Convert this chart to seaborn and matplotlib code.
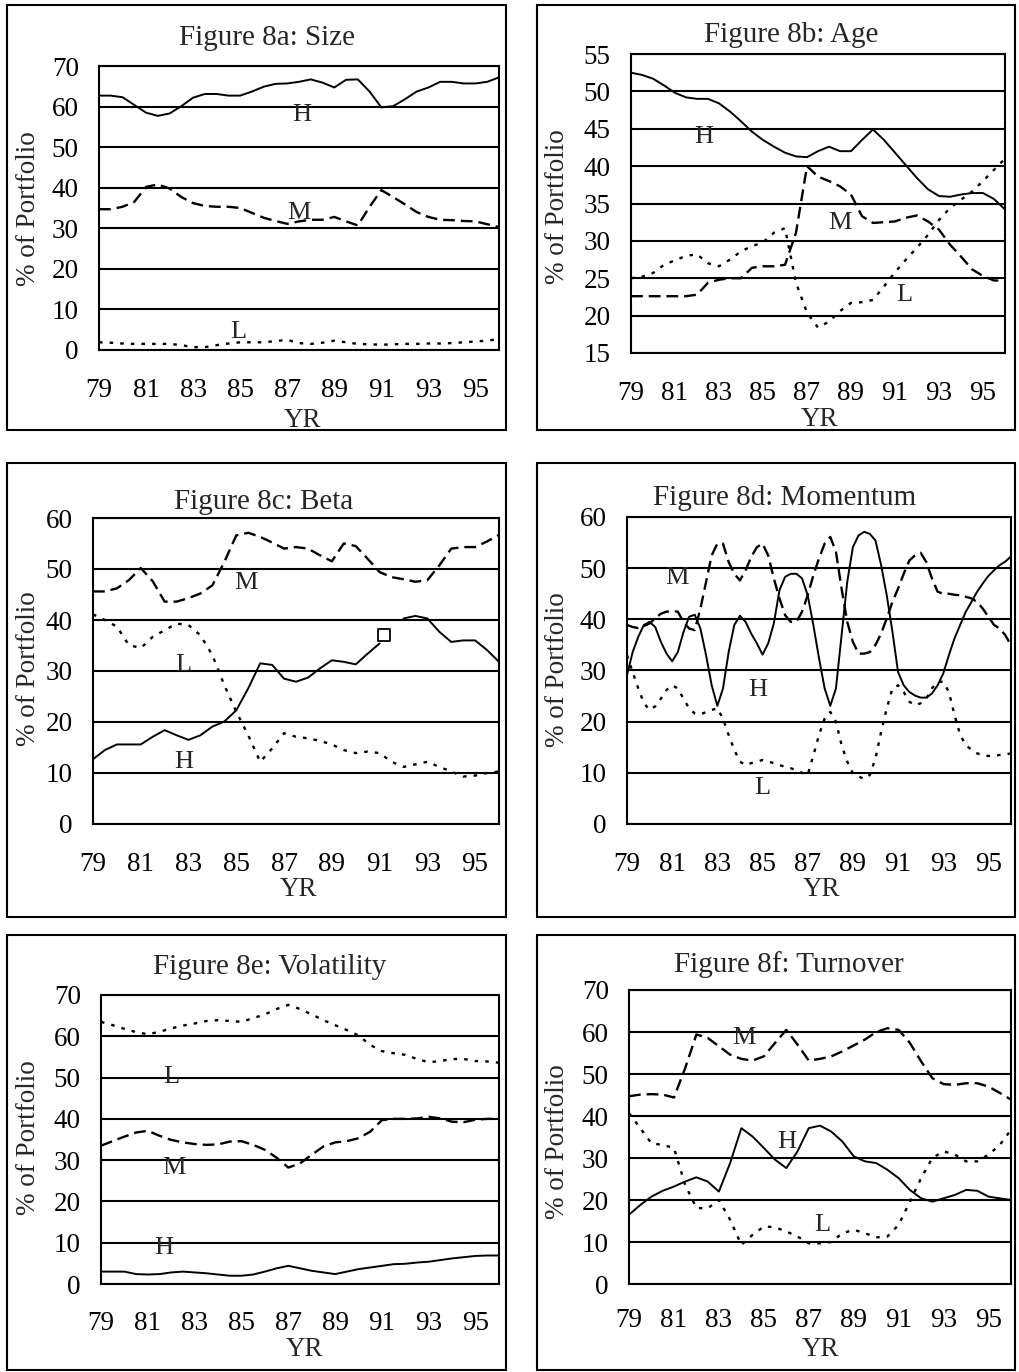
import numpy as np
import pandas as pd
import matplotlib
matplotlib.use('Agg')
import matplotlib.pyplot as plt
from matplotlib.patches import Rectangle
import seaborn as sns

# ---- data ----
years_half = [79.0, 79.5, 80.0, 80.5, 81.0, 81.5, 82.0, 82.5, 83.0, 83.5, 84.0, 84.5,
              85.0, 85.5, 86.0, 86.5, 87.0, 87.5, 88.0, 88.5, 89.0, 89.5, 90.0, 90.5,
              91.0, 91.5, 92.0, 92.5, 93.0, 93.5, 94.0, 94.5, 95.0, 95.5, 96.0]
years_qtr = [79.0, 79.25, 79.5, 79.75, 80.0, 80.25, 80.5, 80.75, 81.0, 81.25, 81.5, 81.75,
             82.0, 82.25, 82.5, 82.75, 83.0, 83.25, 83.5, 83.75, 84.0, 84.25, 84.5, 84.75,
             85.0, 85.25, 85.5, 85.75, 86.0, 86.25, 86.5, 86.75, 87.0, 87.25, 87.5, 87.75,
             88.0, 88.25, 88.5, 88.75, 89.0, 89.25, 89.5, 89.75, 90.0, 90.25, 90.5, 90.75,
             91.0, 91.25, 91.5, 91.75, 92.0, 92.25, 92.5, 92.75, 93.0, 93.25, 93.5, 93.75,
             94.0, 94.25, 94.5, 94.75, 95.0, 95.25, 95.5, 95.75, 96.0]

# Figure 8a: Size
size_H = [62.7, 62.7, 62.3, 60.4, 58.5, 57.7, 58.3, 60.1, 62.2, 63.1, 63.1, 62.7,
          62.7, 63.7, 64.9, 65.6, 65.7, 66.1, 66.7, 65.9, 64.7, 66.6, 66.7, 63.7,
          59.8, 60.1, 61.8, 63.7, 64.7, 66.1, 66.1, 65.7, 65.7, 66.1, 67.2]
size_M = [34.7, 34.7, 35.3, 36.5, 40.2, 40.8, 39.8, 37.7, 36.2, 35.5, 35.3, 35.3,
          35.0, 33.8, 32.6, 31.8, 31.1, 31.7, 32.1, 32.1, 32.8, 31.7, 30.7, 35.3,
          39.4, 37.7, 35.9, 34.0, 32.8, 32.1, 32.0, 31.8, 31.7, 31.0, 30.3]
size_L = [1.9, 1.8, 1.6, 1.5, 1.5, 1.5, 1.5, 1.2, 0.7, 0.7, 1.2, 1.6,
          1.9, 1.9, 1.9, 2.2, 2.5, 1.7, 1.5, 1.8, 2.3, 1.9, 1.5, 1.4,
          1.3, 1.4, 1.5, 1.5, 1.6, 1.6, 1.7, 1.9, 2.1, 2.3, 2.7]

# Figure 8b: Age
age_H = [52.5, 52.2, 51.7, 50.8, 49.8, 49.2, 49.0, 49.0, 48.4, 47.3, 46.0, 44.6,
         43.5, 42.6, 41.8, 41.3, 41.2, 42.0, 42.6, 42.0, 42.0, 43.5, 44.9, 43.5,
         41.8, 40.1, 38.4, 36.9, 36.0, 35.9, 36.2, 36.4, 36.4, 35.6, 34.2]
age_M = [22.6, 22.6, 22.6, 22.6, 22.6, 22.6, 22.8, 24.4, 24.8, 25.0, 25.0, 26.4,
         26.6, 26.6, 26.8, 31.1, 40.0, 38.6, 38.0, 37.3, 36.2, 33.3, 32.4, 32.5,
         32.6, 33.1, 33.4, 32.6, 31.5, 29.5, 27.9, 26.2, 25.3, 24.7, 24.7]
age_L = [25.0, 25.2, 25.7, 26.8, 27.4, 28.0, 28.2, 27.0, 26.6, 27.5, 28.6, 29.3,
         29.8, 31.1, 31.7, 24.4, 20.4, 18.4, 19.2, 20.6, 21.7, 21.8, 22.1, 23.9,
         25.8, 27.5, 29.1, 30.8, 32.8, 34.4, 35.5, 36.6, 38.0, 39.5, 41.0]

# Figure 8c: Beta
beta_H = [12.7, 14.5, 15.6, 15.6, 15.6, 17.1, 18.4, 17.4, 16.5, 17.4, 19.1, 20.1,
          22.3, 26.6, 31.5, 31.2, 28.5, 27.9, 28.7, 30.5, 32.1, 31.8, 31.3, 33.4,
          35.4, np.nan, 40.3, 40.8, 40.3, 37.7, 35.7, 36.0, 36.0, 34.1, 31.8]
beta_M = [45.6, 45.6, 46.2, 47.8, 50.2, 47.6, 43.6, 43.6, 44.3, 45.2, 46.8, 51.4,
          56.6, 57.1, 56.3, 55.2, 54.0, 54.3, 54.0, 52.7, 51.5, 55.0, 54.5, 52.0,
          49.4, 48.4, 48.0, 47.5, 47.8, 50.7, 54.0, 54.3, 54.3, 55.4, 56.7]
beta_L = [41.1, 40.0, 38.7, 35.1, 34.5, 36.7, 38.0, 39.3, 39.0, 37.0, 33.1, 27.2,
          22.0, 17.4, 12.2, 14.8, 17.8, 17.1, 16.8, 16.3, 15.6, 14.5, 13.9, 14.2,
          13.9, 12.2, 11.2, 11.7, 12.2, 11.2, 10.3, 9.3, 9.5, 10.0, 10.3]
beta_box = (91.2, 37.0)

# Figure 8d: Momentum (quarterly)
mom_H = [29.1, 33.6, 36.6, 38.9, 39.5, 38.5, 35.6, 33.3, 31.8, 33.6, 37.5, 40.5,
         40.9, 38.2, 33.0, 27.1, 23.1, 26.5, 33.6, 38.9, 40.7, 39.5, 37.2, 35.3,
         33.1, 35.3, 39.2, 45.7, 48.3, 48.9, 48.9, 48.0, 44.7, 38.9, 32.4, 26.5,
         23.1, 26.5, 36.9, 47.3, 54.1, 56.4, 57.1, 56.7, 55.4, 50.6, 44.7, 37.6,
         29.7, 27.1, 25.8, 25.1, 24.7, 24.7, 25.5, 27.1, 29.4, 33.0, 36.3, 38.9,
         41.5, 43.4, 45.4, 47.0, 48.5, 49.6, 50.6, 51.3, 52.3]
mom_M = [38.9, 38.5, 38.3, 38.7, 39.2, 40.2, 41.1, 41.5, 41.6, 41.5, 39.5, 38.2,
         37.9, 42.1, 47.3, 52.5, 54.8, 54.8, 51.2, 48.9, 47.6, 49.6, 52.2, 54.1,
         54.8, 52.5, 48.0, 44.1, 40.8, 39.5, 39.5, 41.5, 44.7, 48.6, 51.9, 54.8,
         56.1, 53.2, 46.0, 39.5, 35.6, 33.3, 33.3, 33.6, 35.0, 37.2, 40.2, 43.4,
         46.0, 48.9, 51.5, 52.5, 53.0, 51.2, 48.0, 45.4, 45.0, 45.0, 44.8, 44.7,
         44.4, 44.1, 43.4, 42.1, 40.5, 38.9, 38.2, 36.9, 34.9]
mom_L = [33.0, 29.7, 26.5, 23.6, 22.3, 23.0, 24.5, 26.2, 27.1, 26.5, 24.5, 22.6,
         21.6, 21.4, 21.9, 22.3, 22.6, 20.6, 17.4, 14.5, 12.2, 11.5, 11.9, 12.2,
         12.5, 12.2, 11.9, 11.5, 11.2, 10.9, 10.5, 10.0, 9.6, 13.4, 17.4, 20.6,
         21.9, 20.0, 15.4, 12.2, 9.9, 9.3, 8.8, 9.6, 12.8, 18.0, 22.6, 26.5,
         27.1, 25.8, 23.9, 23.2, 23.6, 24.5, 26.5, 27.8, 27.8, 25.8, 21.3, 17.4,
         15.4, 14.5, 13.8, 13.5, 13.3, 13.3, 13.5, 13.6, 13.8]

# Figure 8e: Volatility
vol_H = [3.0, 3.0, 3.0, 2.4, 2.3, 2.4, 2.8, 3.0, 2.8, 2.6, 2.3, 2.0,
         2.0, 2.3, 3.0, 3.8, 4.4, 3.8, 3.2, 2.8, 2.4, 3.0, 3.6, 4.0,
         4.4, 4.8, 4.9, 5.2, 5.4, 5.8, 6.2, 6.5, 6.8, 6.9, 6.9]
vol_M = [33.5, 34.6, 35.7, 36.7, 37.1, 35.9, 34.9, 34.3, 33.9, 33.7, 33.8, 34.5,
         34.6, 33.7, 32.5, 30.6, 28.2, 29.2, 31.3, 33.3, 34.3, 34.6, 35.3, 36.9,
         39.7, 40.0, 40.0, 40.1, 40.5, 40.1, 39.3, 39.2, 39.8, 40.0, 40.0]
vol_L = [63.5, 62.7, 61.8, 61.0, 60.5, 61.1, 61.9, 62.6, 63.1, 63.7, 63.9, 63.7,
         63.5, 64.4, 65.3, 66.6, 67.6, 66.6, 65.3, 63.9, 62.7, 61.5, 60.2, 57.9,
         56.4, 55.9, 55.5, 54.5, 53.7, 54.0, 54.5, 54.5, 54.0, 53.9, 53.6]

# Figure 8f: Turnover
turn_H = [16.5, 18.8, 20.8, 22.2, 23.2, 24.4, 25.4, 24.4, 22.0, 28.8, 37.1, 35.1,
          32.4, 29.6, 27.6, 31.6, 37.1, 37.7, 36.3, 33.9, 30.4, 29.2, 28.8, 27.2,
          25.2, 22.4, 20.4, 19.6, 20.4, 21.2, 22.4, 22.2, 20.8, 20.4, 20.0]
turn_M = [44.7, 45.1, 45.2, 45.1, 44.4, 51.4, 59.4, 58.6, 56.6, 54.6, 53.6, 53.2,
          54.2, 57.4, 60.5, 57.0, 53.2, 53.6, 54.2, 55.4, 56.8, 58.2, 60.0, 60.9,
          60.5, 57.4, 53.0, 49.0, 47.6, 47.4, 47.8, 47.8, 47.0, 45.5, 43.9]
turn_L = [40.7, 37.1, 33.5, 33.1, 32.4, 23.6, 18.1, 18.0, 20.0, 15.3, 9.3, 11.7,
          13.7, 13.5, 12.5, 11.3, 9.7, 9.7, 10.0, 12.1, 12.9, 12.1, 11.1, 11.3,
          14.1, 19.6, 25.2, 30.0, 31.6, 30.8, 29.2, 29.2, 30.8, 33.1, 36.7]

xtick_vals = [79, 81, 83, 85, 87, 89, 91, 93, 95]
xtick_labels = ['79', '81', '83', '85', '87', '89', '91', '93', '95']

# ---- layout (pixel boxes of the 1019x1372 page) ----
W, H = 1019, 1372


def fig_rect(l, t, r, b):
    return [l / W, 1 - b / H, (r - l) / W, (b - t) / H]


panels = [
    dict(title='Figure 8a: Size', x=years_half, H=size_H, M=size_M, L=size_L,
         ylim=(0, 70), ystep=10, ax=(99, 66, 499, 350), box=(7, 5, 506, 430),
         title_xy=(267, 38), ylab_xy=(29, 209), yr_xy=(302, 421), xpad=14,
         tags={'H': (87.6, 57.9), 'M': (87.5, 33.8), 'L': (84.9, 4.4)}),
    dict(title='Figure 8b: Age', x=years_half, H=age_H, M=age_M, L=age_L,
         ylim=(15, 55), ystep=5, ax=(631, 54, 1005, 353), box=(537, 5, 1015, 430),
         title_xy=(791, 35), ylab_xy=(558, 207), yr_xy=(819, 420), xpad=14,
         tags={'H': (82.3, 43.9), 'M': (88.5, 32.4), 'L': (91.4, 22.8)}),
    dict(title='Figure 8c: Beta', x=years_half, H=beta_H, M=beta_M, L=beta_L,
         ylim=(0, 60), ystep=10, ax=(93, 518, 499, 824), box=(7, 463, 506, 917),
         title_xy=(264, 502), ylab_xy=(29, 669), yr_xy=(298, 889), xpad=14,
         tags={'M': (85.4, 47.3), 'L': (82.8, 31.2), 'H': (82.8, 12.2)}),
    dict(title='Figure 8d: Momentum', x=years_qtr, H=mom_H, M=mom_M, L=mom_L,
         ylim=(0, 60), ystep=10, ax=(627, 517, 1011, 824), box=(537, 463, 1015, 917),
         title_xy=(785, 498), ylab_xy=(558, 670), yr_xy=(821, 890), xpad=14,
         tags={'M': (81.2, 48.1), 'H': (84.8, 26.2), 'L': (85.0, 7.0)}),
    dict(title='Figure 8e: Volatility', x=years_half, H=vol_H, M=vol_M, L=vol_L,
         ylim=(0, 70), ystep=10, ax=(101, 995, 499, 1284), box=(7, 935, 506, 1370),
         title_xy=(270, 967), ylab_xy=(29, 1138), yr_xy=(304, 1349), xpad=13,
         tags={'L': (82.0, 50.1), 'M': (82.1, 28.1), 'H': (81.7, 8.7)}),
    dict(title='Figure 8f: Turnover', x=years_half, H=turn_H, M=turn_M, L=turn_L,
         ylim=(0, 70), ystep=10, ax=(629, 990, 1011, 1284), box=(537, 935, 1015, 1370),
         title_xy=(789, 965), ylab_xy=(558, 1142), yr_xy=(820, 1350), xpad=11,
         tags={'M': (84.1, 58.6), 'H': (86.0, 33.8), 'L': (87.6, 14.0)}),
]

line_styles = {
    'H': dict(linestyle='-', lw=1.4),
    'M': dict(linestyle=(0, (5, 2.5)), lw=1.7),
    'L': dict(linestyle=(0, (1.5, 3)), lw=1.7),
}

sns.set_style('white')
plt.rcParams['font.family'] = ['Liberation Serif', 'DejaVu Serif']

fig = plt.figure(figsize=(W / 100, H / 100), dpi=100)

for p in panels:
    # outer frame around each panel
    l, t, r, b = p['box']
    fig.patches.append(Rectangle((l / W, 1 - b / H), (r - l) / W, (b - t) / H,
                                 transform=fig.transFigure, fill=False,
                                 edgecolor='black', lw=1.5))

    ax = fig.add_axes(fig_rect(*p['ax']))
    for key in ['H', 'M', 'L']:
        df = pd.DataFrame({'YR': p['x'], 'pct': p[key]})
        # break the line where a value is missing
        df['piece'] = df['pct'].isna().cumsum()
        for _, seg in df.dropna().groupby('piece'):
            sns.lineplot(data=seg, x='YR', y='pct', ax=ax, color='black',
                         legend=False, **line_styles[key])
    if p['title'].endswith('Beta'):
        sns.scatterplot(x=[beta_box[0]], y=[beta_box[1]], ax=ax, marker='s', s=80,
                        color='white', edgecolor='black', linewidth=1.3, zorder=5)

    for key, (tx, ty) in p['tags'].items():
        ax.text(tx, ty, key, ha='center', va='center', fontsize=19)

    lo, hi = p['ylim']
    ax.set_xlim(79, 96)
    ax.set_ylim(lo, hi)
    ax.set_xticks(xtick_vals)
    ax.set_xticklabels(xtick_labels)
    ax.set_yticks(list(range(lo, hi + 1, p['ystep'])))
    ax.yaxis.grid(True, color='black', lw=1.5)
    ax.xaxis.grid(False)
    ax.set_xlabel('')
    ax.set_ylabel('')
    for sp in ax.spines.values():
        sp.set_visible(True)
        sp.set_color('black')
        sp.set_linewidth(1.5)
    ax.tick_params(axis='both', direction='out', length=6.5, width=1.5,
                   colors='black', labelsize=19.5)
    ax.tick_params(axis='x', pad=p['xpad'])
    ax.tick_params(axis='y', pad=8)

    fig.text(p['title_xy'][0] / W, 1 - p['title_xy'][1] / H, p['title'],
             ha='center', va='center', fontsize=21)
    fig.text(p['ylab_xy'][0] / W, 1 - p['ylab_xy'][1] / H, '% of Portfolio',
             ha='center', va='center', rotation=90, fontsize=19.5)
    fig.text(p['yr_xy'][0] / W, 1 - p['yr_xy'][1] / H, 'YR',
             ha='center', va='center', fontsize=19.5)

fig.savefig('out.png', dpi=100)
